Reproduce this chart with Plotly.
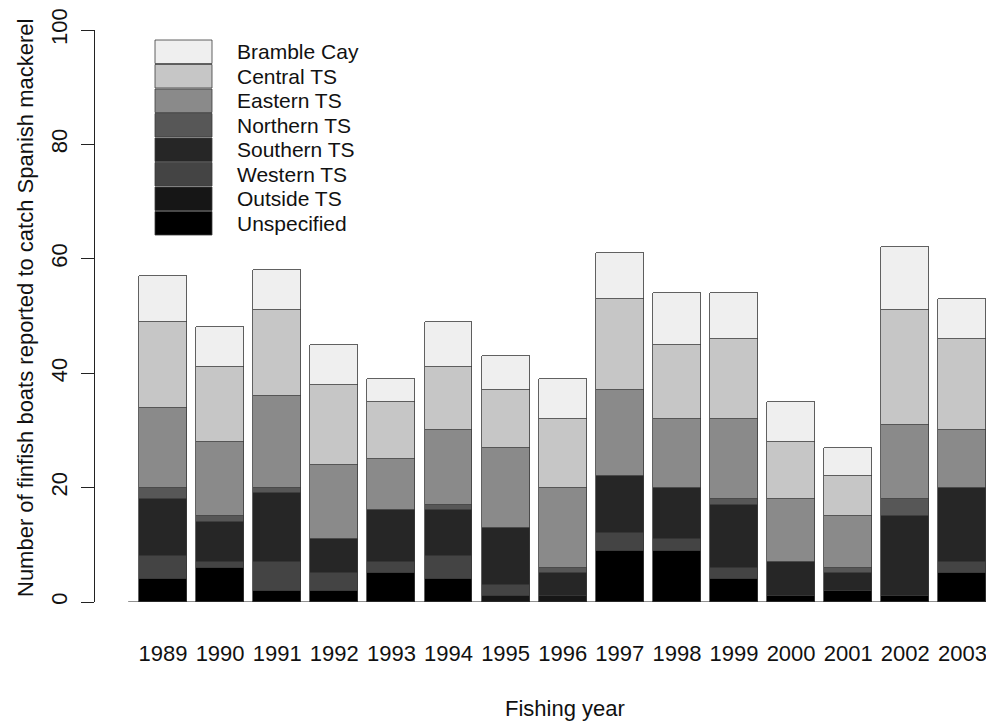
import plotly.graph_objects as go

# Fishing years and boats per region, listed from the bottom of each stack upward
years = ["1989", "1990", "1991", "1992", "1993", "1994", "1995", "1996",
         "1997", "1998", "1999", "2000", "2001", "2002", "2003"]

unspecified = [4, 6, 2, 2, 5, 4, 0, 0, 9, 9, 4, 1, 2, 1, 5]
outside_ts = [0, 0, 0, 0, 0, 0, 1, 1, 0, 0, 0, 0, 0, 0, 0]
western_ts = [4, 1, 5, 3, 2, 4, 2, 0, 3, 2, 2, 0, 0, 0, 2]
southern_ts = [10, 7, 12, 6, 9, 8, 10, 4, 10, 9, 11, 6, 3, 14, 13]
northern_ts = [2, 1, 1, 0, 0, 1, 0, 1, 0, 0, 1, 0, 1, 3, 0]
eastern_ts = [14, 13, 16, 13, 9, 13, 14, 14, 15, 12, 14, 11, 9, 13, 10]
central_ts = [15, 13, 15, 14, 10, 11, 10, 12, 16, 13, 14, 10, 7, 20, 16]
bramble_cay = [8, 7, 7, 7, 4, 8, 6, 7, 8, 9, 8, 7, 5, 11, 7]

y_ticks = [0, 20, 40, 60, 80, 100]

series = [
    ("Unspecified", unspecified, "#000000"),
    ("Outside TS", outside_ts, "#161616"),
    ("Western TS", western_ts, "#444444"),
    ("Southern TS", southern_ts, "#262626"),
    ("Northern TS", northern_ts, "#575757"),
    ("Eastern TS", eastern_ts, "#8a8a8a"),
    ("Central TS", central_ts, "#c6c6c6"),
    ("Bramble Cay", bramble_cay, "#efefef"),
]

W, H = 986, 722
L, R, T, B = 95, 0, 30, 120
x_pos = list(range(len(years)))
# pixel geometry of the category axis: first centre at 163px, 57.1px per year
first_c, step = 163.0, 57.1
x0 = (L - first_c) / step
x1 = (W - R - first_c) / step

fig = go.Figure()
for name, vals, col in series:
    fig.add_trace(go.Bar(
        x=x_pos, y=vals, name=name, width=0.84,
        marker=dict(color=col, line=dict(color="#3a3a3a", width=0.8)),
        showlegend=False,
    ))

font = "Arial, Liberation Sans, sans-serif"
fs = 22

fig.update_layout(
    width=W, height=H,
    margin=dict(l=L, r=R, t=T, b=B, autoexpand=False),
    paper_bgcolor="white", plot_bgcolor="white",
    barmode="stack", bargap=0,
    font=dict(family=font, color="#111111"),
    xaxis=dict(
        range=[x0, x1], tickmode="array", tickvals=x_pos, ticktext=years,
        showline=False, showgrid=False, zeroline=False, ticks="",
        tickfont=dict(size=fs, family=font, color="#111111"),
        ticklabelstandoff=36, ticklabeloverflow="allow",
    ),
    yaxis=dict(
        range=[0, 100], tickvals=y_ticks, showgrid=False, zeroline=False,
        showline=True, linecolor="#222222", linewidth=1,
        ticks="outside", ticklen=13, tickcolor="#222222",
        tickangle=-90, tickfont=dict(size=fs, family=font, color="#111111"),
        ticklabelstandoff=5,
    ),
)

# baseline under the bars
fig.add_shape(type="line", xref="x", yref="y", x0=-0.61, x1=x1, y0=0, y1=0,
              line=dict(color="#222222", width=1))

# axis titles
plot_w, plot_h = W - L - R, H - T - B
fig.add_annotation(text="Fishing year", xref="paper", yref="paper",
                   x=(565 - L) / plot_w, y=-(708 - 602) / plot_h,
                   showarrow=False, xanchor="center", yanchor="middle",
                   font=dict(size=fs, family=font, color="#111111"))
fig.add_annotation(text="Number of finfish boats reported to catch Spanish mackerel",
                   xref="paper", yref="paper",
                   x=-(L - 25) / plot_w, y=(602 - 308) / plot_h,
                   textangle=-90, showarrow=False, xanchor="center", yanchor="middle",
                   font=dict(size=fs, family=font, color="#111111"))

# legend boxes and labels, top entry first
row_top, row_h = 40.0, 24.5
for i, (name, vals, col) in enumerate(reversed(series)):
    top = row_top + i * row_h
    bot = top + row_h - 1
    fig.add_shape(type="rect", xref="paper", yref="paper",
                  x0=(155 - L) / plot_w, x1=(212 - L) / plot_w,
                  y0=(602 - bot) / plot_h, y1=(602 - top) / plot_h,
                  fillcolor=col, line=dict(color="#3a3a3a", width=0.8))
    fig.add_annotation(text=name, xref="paper", yref="paper",
                       x=(235 - L) / plot_w, y=(602 - (top + bot) / 2) / plot_h,
                       showarrow=False, xanchor="left", yanchor="middle",
                       font=dict(size=fs - 1, family=font, color="#111111"))

fig.write_html("out.html")
